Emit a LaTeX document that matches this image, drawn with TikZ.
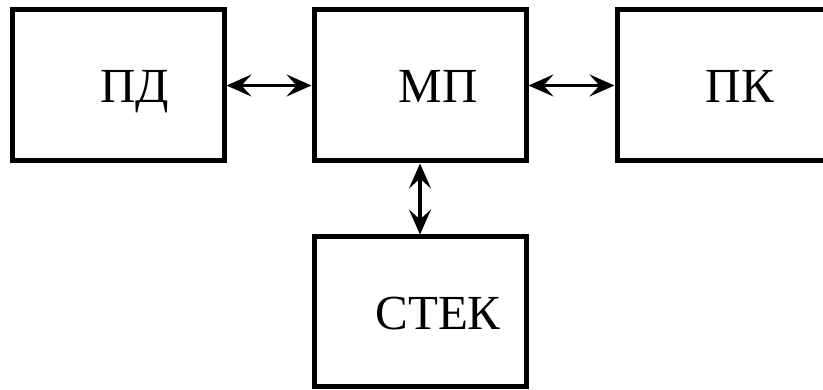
\documentclass[tikz,border=0pt]{standalone}
\usepackage{fontspec}
\setmainfont{Liberation Serif}
\usetikzlibrary{arrows.meta}
\begin{document}
\begin{tikzpicture}[x=1pt,y=-1pt,
  block/.style={draw=black, line width=5pt, minimum width=212pt, minimum height=151pt, inner sep=0pt, outer sep=2.5pt},
  lbl/.style={anchor=base, inner sep=0pt, font=\fontsize{49}{50}\selectfont},
  link/.style={line width=3.2pt, {Stealth[length=25pt,width=22pt,inset=10pt]}-{Stealth[length=25pt,width=22pt,inset=10pt]}}]
  \useasboundingbox (0,0) rectangle (823,390);
  % blocks
  \node[block] (pd)   at (118,85.5) {};
  \node[block] (mp)   at (420,85.5) {};
  \node[block] (pk)   at (723,85.5) {};
  \node[block, minimum height=150pt] (stek) at (420,312) {};
  % captions
  \node[lbl] (pdt)   at (135,103) {ПД};
  \node[lbl] (mpt)   at (438,103) {МП};
  \node[lbl] (pkt)   at (740,103) {ПК};
  \node[lbl] (stekt) at (438,330) {СТЕК};
  % bidirectional links
  \draw[link] (pd.east) -- (mp.west);
  \draw[link] (mp.east) -- (pk.west);
  \draw[link] (mp.south) -- (stek.north);
\end{tikzpicture}
\end{document}
